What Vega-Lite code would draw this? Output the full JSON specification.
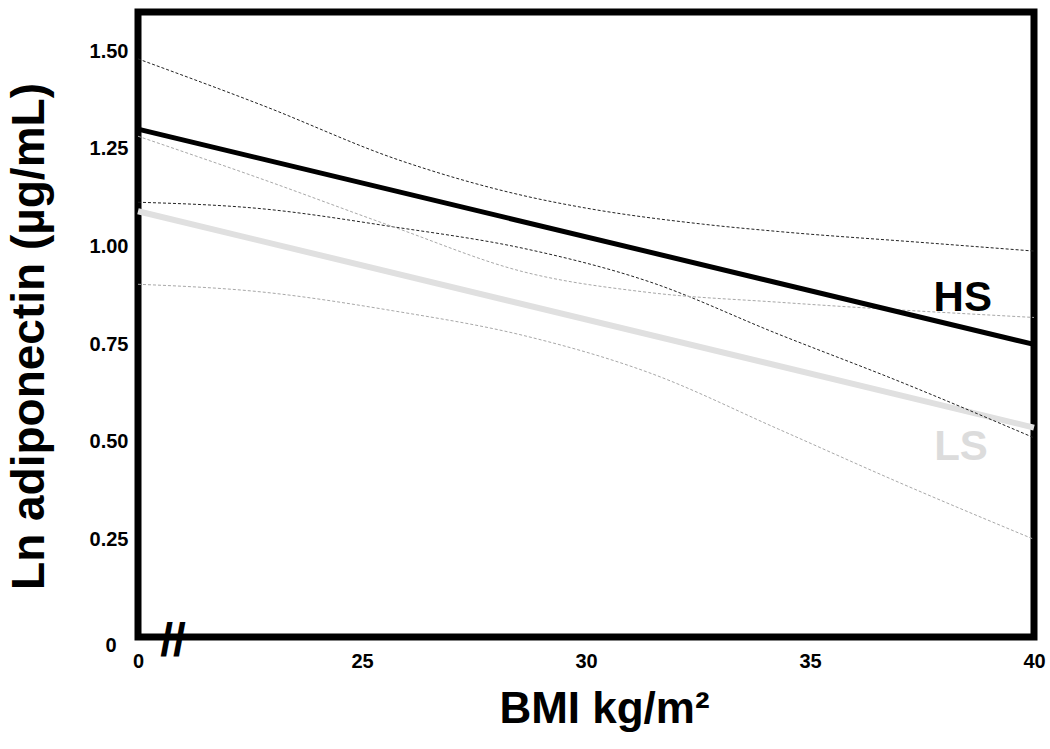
{
  "$schema": "https://vega.github.io/schema/vega-lite/v6.json",
  "width": 896,
  "height": 625,
  "autosize": "none",
  "padding": {"left": 138, "top": 12, "right": 16, "bottom": 112},
  "background": "white",
  "config": {
    "view": {"stroke": "black", "strokeWidth": 7},
    "font": "Liberation Sans"
  },
  "datasets": {
    "bands": [
      {"series": "HS upper", "bmi": 20, "ln": 1.48},
      {"series": "HS upper", "bmi": 22.8, "ln": 1.36},
      {"series": "HS upper", "bmi": 25.8, "ln": 1.222},
      {"series": "HS upper", "bmi": 28.6, "ln": 1.13},
      {"series": "HS upper", "bmi": 30, "ln": 1.098},
      {"series": "HS upper", "bmi": 32.6, "ln": 1.057},
      {"series": "HS upper", "bmi": 34.3, "ln": 1.038},
      {"series": "HS upper", "bmi": 37.5, "ln": 1.01},
      {"series": "HS upper", "bmi": 40, "ln": 0.988},
      {"series": "HS lower", "bmi": 20, "ln": 1.113},
      {"series": "HS lower", "bmi": 22.7, "ln": 1.097},
      {"series": "HS lower", "bmi": 25.7, "ln": 1.05},
      {"series": "HS lower", "bmi": 28.6, "ln": 0.995},
      {"series": "HS lower", "bmi": 31.4, "ln": 0.91},
      {"series": "HS lower", "bmi": 34.3, "ln": 0.775},
      {"series": "HS lower", "bmi": 37, "ln": 0.654},
      {"series": "HS lower", "bmi": 40, "ln": 0.51},
      {"series": "LS upper", "bmi": 20, "ln": 1.282},
      {"series": "LS upper", "bmi": 22.7, "ln": 1.175},
      {"series": "LS upper", "bmi": 25.7, "ln": 1.05},
      {"series": "LS upper", "bmi": 28.6, "ln": 0.935},
      {"series": "LS upper", "bmi": 31.4, "ln": 0.882},
      {"series": "LS upper", "bmi": 34.3, "ln": 0.857},
      {"series": "LS upper", "bmi": 40, "ln": 0.818},
      {"series": "LS lower", "bmi": 20, "ln": 0.903},
      {"series": "LS lower", "bmi": 22.7, "ln": 0.884},
      {"series": "LS lower", "bmi": 25.7, "ln": 0.835},
      {"series": "LS lower", "bmi": 28.6, "ln": 0.772},
      {"series": "LS lower", "bmi": 31.4, "ln": 0.677},
      {"series": "LS lower", "bmi": 34.3, "ln": 0.532},
      {"series": "LS lower", "bmi": 37, "ln": 0.395},
      {"series": "LS lower", "bmi": 40, "ln": 0.25}
    ]
  },
  "encoding": {
    "x": {
      "field": "bmi", "type": "quantitative",
      "scale": {"domain": [20, 40], "nice": false, "zero": false},
      "axis": {
        "values": [20, 25, 30, 35, 40],
        "labelExpr": "datum.value == 20 ? '0' : datum.label",
        "title": "BMI kg/m²",
        "grid": false, "domain": false, "ticks": false,
        "labelFlush": false,
        "labelFont": "Liberation Sans", "labelFontWeight": "bold", "labelFontSize": 20, "labelColor": "black",
        "labelPadding": 14,
        "titleFont": "Liberation Sans", "titleFontWeight": "bold", "titleFontSize": 44, "titleColor": "black",
        "titlePadding": 16,
        "titleX": 466
      }
    },
    "y": {
      "field": "ln", "type": "quantitative",
      "scale": {"domain": [0, 1.6], "nice": false},
      "axis": {
        "values": [0, 0.25, 0.5, 0.75, 1, 1.25, 1.5],
        "labelExpr": "datum.value == 0 ? '0' : format(datum.value, '.2f')",
        "title": "Ln adiponectin (µg/mL)",
        "grid": false, "domain": false, "ticks": false,
        "labelFont": "Liberation Sans", "labelFontWeight": "bold", "labelFontSize": 20, "labelColor": "black",
        "labelPadding": {"expr": "datum.value == 0 ? 22 : 10"},
        "labelOffset": {"expr": "datum.value == 0 ? 8 : 0"},
        "titleFont": "Liberation Sans", "titleFontWeight": "bold", "titleFontSize": 46, "titleColor": "black",
        "titlePadding": 36,
        "titleY": 324
      }
    }
  },
  "layer": [
    {
      "data": {"values": [
        {"series": "LS", "bmi": 20, "ln": 1.09},
        {"series": "LS", "bmi": 40, "ln": 0.536}
      ]},
      "mark": {"type": "line", "color": "#e0e0e0", "strokeWidth": 6}
    },
    {
      "data": {"name": "bands"},
      "mark": {"type": "line", "strokeWidth": 1, "strokeDash": [3, 2], "interpolate": "monotone"},
      "encoding": {
        "detail": {"field": "series"},
        "color": {
          "field": "series", "type": "nominal",
          "scale": {"domain": ["HS upper", "HS lower", "LS upper", "LS lower"], "range": ["#222222", "#222222", "#a8a8a8", "#a8a8a8"]},
          "legend": null
        }
      }
    },
    {
      "data": {"values": [
        {"series": "HS", "bmi": 20, "ln": 1.30},
        {"series": "HS", "bmi": 40, "ln": 0.749}
      ]},
      "mark": {"type": "line", "color": "black", "strokeWidth": 5}
    },
    {
      "data": {"values": [{"label": "HS", "bmi": 38.41, "ln": 0.869}]},
      "mark": {"type": "text", "font": "Liberation Sans", "fontWeight": "bold", "fontSize": 42, "baseline": "middle", "align": "center", "color": "black"},
      "encoding": {"text": {"field": "label"}}
    },
    {
      "data": {"values": [{"label": "LS", "bmi": 38.37, "ln": 0.487}]},
      "mark": {"type": "text", "font": "Liberation Sans", "fontWeight": "bold", "fontSize": 42, "baseline": "middle", "align": "center", "color": "#dcdcdc"},
      "encoding": {"text": {"field": "label"}}
    },
    {
      "data": {"values": [{"label": "//", "bmi": 20.78, "ln": 0}]},
      "mark": {"type": "text", "font": "Liberation Sans", "fontWeight": "bold", "fontSize": 46, "baseline": "middle", "align": "center", "color": "black", "dy": 5},
      "encoding": {"text": {"field": "label"}}
    }
  ]
}
